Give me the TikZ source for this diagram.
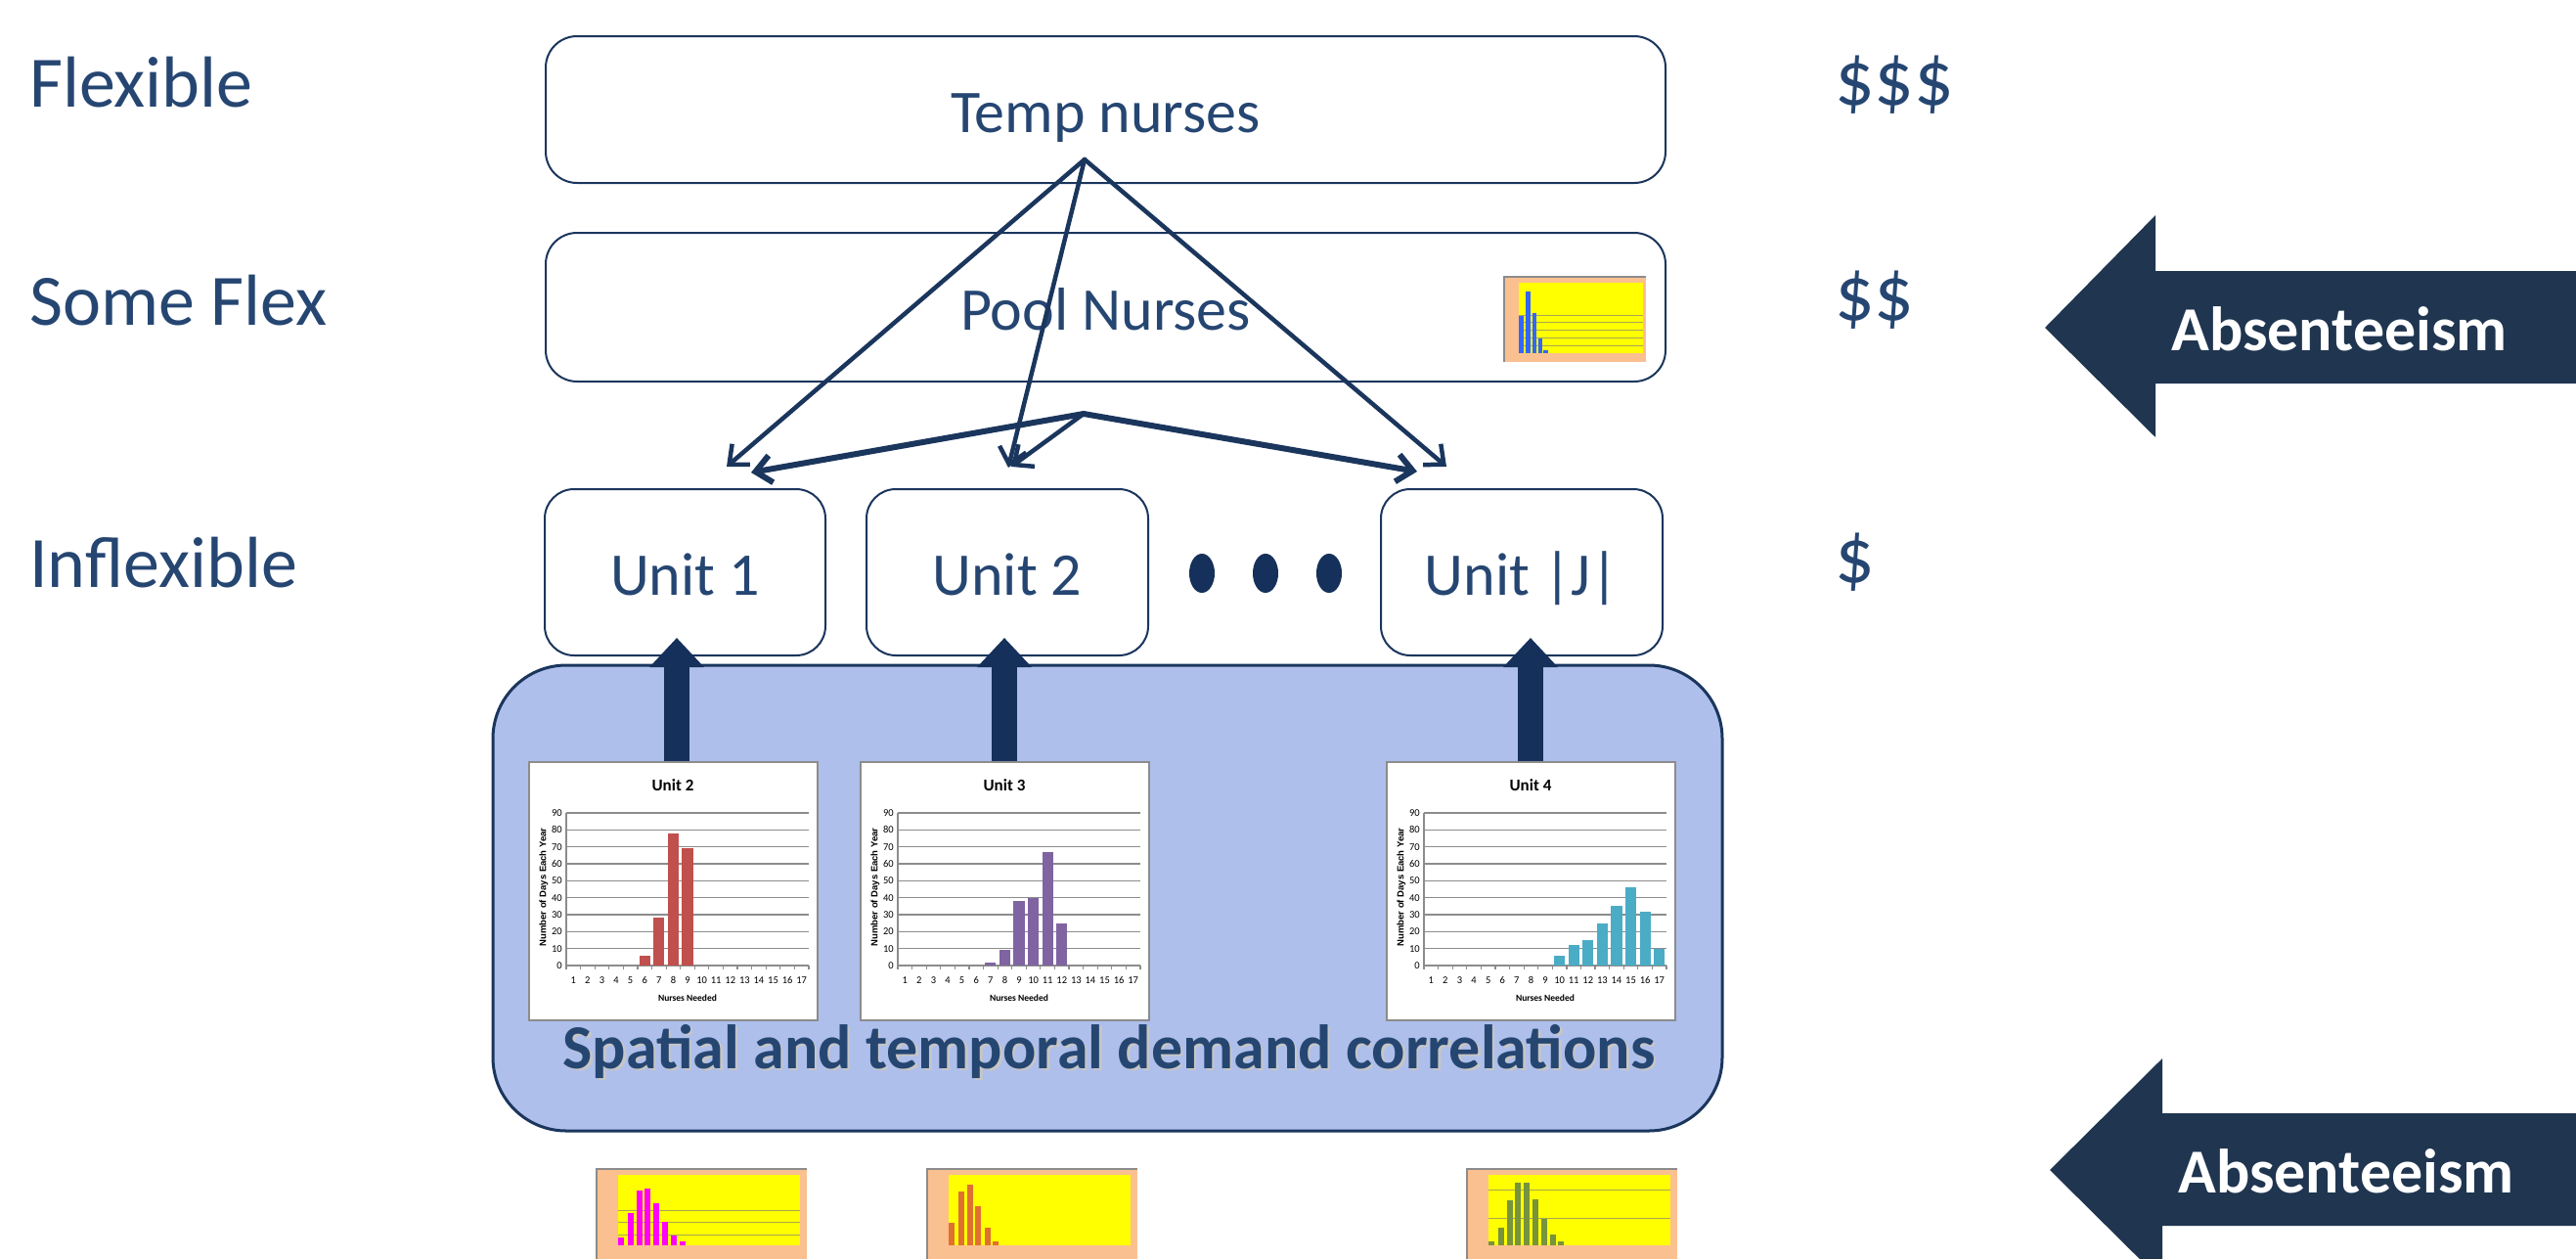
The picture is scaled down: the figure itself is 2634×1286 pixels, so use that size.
\documentclass[tikz,border=0pt]{standalone}
\usepackage{fontspec}
\setmainfont{Carlito}
\newfontfamily\arialf{Liberation Sans}
\usetikzlibrary{arrows.meta}
\definecolor{txtblue}{HTML}{264672}
\definecolor{navy}{HTML}{1B365D}
\definecolor{absfill}{HTML}{1F3550}
\definecolor{uparrow}{HTML}{15305A}
\definecolor{bluefill}{HTML}{AEBFEB}
\definecolor{redbar}{HTML}{C0504D}
\definecolor{purplebar}{HTML}{8064A2}
\definecolor{cyanbar}{HTML}{4BACC6}
\definecolor{peach}{HTML}{FAC090}
\definecolor{miniyellow}{HTML}{FFFF00}
\definecolor{minigrid}{HTML}{A8A850}
\definecolor{poolbar}{HTML}{3366FF}
\definecolor{magbar}{HTML}{FF00FF}
\definecolor{orangebar}{HTML}{E07030}
\definecolor{olivebar}{HTML}{77933C}
\definecolor{gridgray}{HTML}{8C8C8C}
\tikzset{
  box/.style={draw=navy, line width=2pt, rounded corners=32pt, fill=white,
    text=txtblue, font=\fontsize{62}{70}\selectfont, inner sep=0pt,
    text height=46pt, text depth=0pt},
  sidelbl/.style={anchor=west, inner sep=0pt, text=txtblue, font=\fontsize{74}{80}\selectfont},
  dollbl/.style={anchor=west, inner sep=0pt, text=txtblue, font=\fontsize{80}{86}\selectfont},
  conn/.style={draw=navy, line width=4.5pt, line cap=round,
    -{Straight Barb[length=16pt,width=28pt,line width=4.5pt]}},
  connthick/.style={draw=navy, line width=6pt, line cap=round,
    -{Straight Barb[length=16pt,width=28pt,line width=6pt]}},
  uparr/.style={draw=uparrow, line width=26pt, -{Triangle[length=30pt,width=54pt]}},
  abslbl/.style={text=white, font=\bfseries\fontsize{64}{70}\selectfont, inner sep=0pt},
  chartframe/.style={draw=gridgray, line width=1.2pt, fill=white},
  gridln/.style={draw=gridgray, line width=1.2pt},
  ticklbl/.style={inner sep=0pt, font=\fontsize{10.5}{11}\selectfont},
  minigridln/.style={draw=minigrid, line width=1pt}
}
\newcommand{\mybarchart}[5]{%
  \begin{scope}[shift={(#1,#2)}]
    \path[chartframe] (0,0) rectangle (295,264);
    \node[inner sep=0pt, font=\bfseries\fontsize{17}{19}\selectfont] at (147,24) {#4};
    \foreach \g in {1,...,9} \draw[gridln] (38,{208-17.333*\g}) -- (286,{208-17.333*\g});
    \draw[gridln] (38,52) -- (38,208) -- (286,208);
    \foreach \c in {0,...,17} \draw[gridln] ({38+14.588*\c},208) -- ++(0,4);
    \foreach \g in {0,10,...,90} \node[ticklbl, anchor=east] at (34,{208-1.7333*\g}) {\g};
    \foreach \c in {1,...,17} \node[ticklbl] at ({38+14.588*(\c-0.5)},223) {\c};
    \foreach \c/\v in {#5} \fill[#3] ({38+14.588*(\c-0.5)-5.6},208) rectangle ++(11.2,{-1.7333*\v});
    \node[inner sep=0pt, font=\bfseries\fontsize{9.5}{10}\selectfont] at (162,241) {Nurses Needed};
    \node[inner sep=0pt, rotate=90, font=\arialf\bfseries\fontsize{9.5}{10}\selectfont] at (15,128) {Number of Days Each Year};
  \end{scope}}
\begin{document}
\begin{tikzpicture}[x=1pt,y=-1pt]
\useasboundingbox (0,0) rectangle (2634,1286);
\clip (0,0) rectangle (2634,1286);
\fill[white] (0,0) rectangle (2634,1286);

% side labels
\node[sidelbl] (lflex) at (30,84) {Flexible};
\node[sidelbl] (lsome) at (30,307) {Some Flex};
\node[sidelbl] (linfl) at (30,575) {Inflexible};
\node[dollbl] (d3) at (1876,87) {\$\$\$};
\node[dollbl] (d2) at (1876,307) {\$\$};
\node[dollbl] (d1) at (1876,575) {\$};

% boxes
\node[box, minimum width=1145pt, minimum height=150pt] (temp) at (1130.5,112) {Temp nurses};
\node[box, minimum width=1145pt, minimum height=152pt] (pool) at (1130.5,314) {Pool Nurses};
\node[box, rounded corners=30pt, minimum width=287pt, minimum height=170pt] (u1) at (700.5,585) {Unit 1};
\node[box, rounded corners=30pt, minimum width=288pt, minimum height=170pt] (u2) at (1030,585) {Unit 2};
\node[box, rounded corners=30pt, minimum width=288pt, minimum height=170pt] (uj) at (1556,585) {Unit |J|};
\foreach \x/\n in {1229/da,1294/db,1359/dc}
  \fill[uparrow] (\x,586) ellipse [x radius=13pt, y radius=20pt];

% small chart in pool box
\fill[peach] (1538,283) rectangle (1683,370);
\draw[gridgray, line width=1.5pt] (1538,370) -- (1538,283) -- (1683,283);
\fill[miniyellow] (1553,289) rectangle (1680,361);
\foreach \y in {322,329,337,345,353} \draw[minigridln] (1553,\y) -- (1680,\y);
\foreach \x/\h in {1553.3/38,1560/63,1566.7/41,1572.7/15,1578.3/3}
  \fill[poolbar] (\x,361) rectangle ++(4.5,-\h);

% connectors
\coordinate (tsrc) at (1109,163);
\coordinate (ta) at (743,477);
\coordinate (tb) at (1031,478);
\coordinate (tc) at (1479,477);
\coordinate (psrc) at (1108,423);
\coordinate (pa) at (768,483);
\coordinate (pb) at (1034,477);
\coordinate (pc) at (1449,482);
\draw[conn] (tsrc) -- (ta);
\draw[conn] (tsrc) -- (tb);
\draw[conn] (tsrc) -- (tc);
\draw[connthick] (psrc) -- (pa);
\draw[conn] (psrc) -- (pb);
\draw[connthick] (psrc) -- (pc);

% correlation box
\node[draw=navy, line width=3pt, fill=bluefill, rounded corners=75pt,
  minimum width=1257pt, minimum height=476pt] (corr) at (1132.5,918) {};

% up arrows
\coordinate (a1s) at (692,800); \coordinate (a1e) at (692,652);
\coordinate (a2s) at (1027,800); \coordinate (a2e) at (1027,652);
\coordinate (a3s) at (1565,800); \coordinate (a3e) at (1565,652);
\draw[uparr] (a1s) -- (a1e);
\draw[uparr] (a2s) -- (a2e);
\draw[uparr] (a3s) -- (a3e);

% charts
\mybarchart{541}{779}{redbar}{Unit 2}{6/6,7/28,8/78,9/69}
\mybarchart{880}{779}{purplebar}{Unit 3}{7/2,8/9,9/38,10/40,11/67,12/25}
\mybarchart{1418}{779}{cyanbar}{Unit 4}{10/6,11/12,12/15,13/25,14/35,15/46,16/32,17/10}

\node[inner sep=0pt, text=gray!45] at (1136.5,1077.5) {\bfseries\fontsize{64}{70}\selectfont Spatial and temporal demand correlations};
\node[inner sep=0pt, text=txtblue] (corrlbl) at (1134,1075) {\bfseries\fontsize{64}{70}\selectfont Spatial and temporal demand correlations};

% absenteeism arrows
\fill[absfill] (2091,335) -- (2204,220) -- (2204,277) -- (2640,277) -- (2640,392) -- (2204,392) -- (2204,447) -- cycle;
\node[abslbl] (abs1) at (2392,336) {Absenteeism};
\fill[absfill] (2096,1196) -- (2211,1082) -- (2211,1138) -- (2640,1138) -- (2640,1253) -- (2211,1253) -- (2211,1310) -- cycle;
\node[abslbl] (abs2) at (2399,1197) {Absenteeism};

% bottom mini charts
\foreach \fx/\px in {610/632,948/970,1500/1522} {
  \fill[peach] (\fx,1195) rectangle ({\fx+215},1300);
  \draw[gridgray, line width=1.5pt] (\fx,1300) -- (\fx,1195) -- ({\fx+215},1195);
  \fill[miniyellow] (\px,1201) rectangle ({\px+186},1273);
}
\foreach \y in {1237.7,1249.7,1262} \draw[minigridln] (632,\y) -- (818,\y);
\foreach \y in {1216.7,1245} \draw[minigridln] (1522,\y) -- (1708,\y);
\foreach \x/\h in {632.3/8.3,641.7/32.7,650.7/55.7,659/58.3,668.3/43.3,677.3/24.3,686/10,695.3/4}
  \fill[magbar] (\x,1273) rectangle ++(6,-\h);
\foreach \x/\h in {970/23.3,980/55,989/61.7,997.3/40,1006.7/18.3,1015.3/4}
  \fill[orangebar] (\x,1273) rectangle ++(6,-\h);
\foreach \x/\h in {1522.3/4,1531.7/18.3,1540.7/45.7,1549/64,1558.3/64,1567.3/47.3,1576/26.7,1585.3/10.7,1593.3/4}
  \fill[olivebar] (\x,1273) rectangle ++(6,-\h);
\end{tikzpicture}
\end{document}
